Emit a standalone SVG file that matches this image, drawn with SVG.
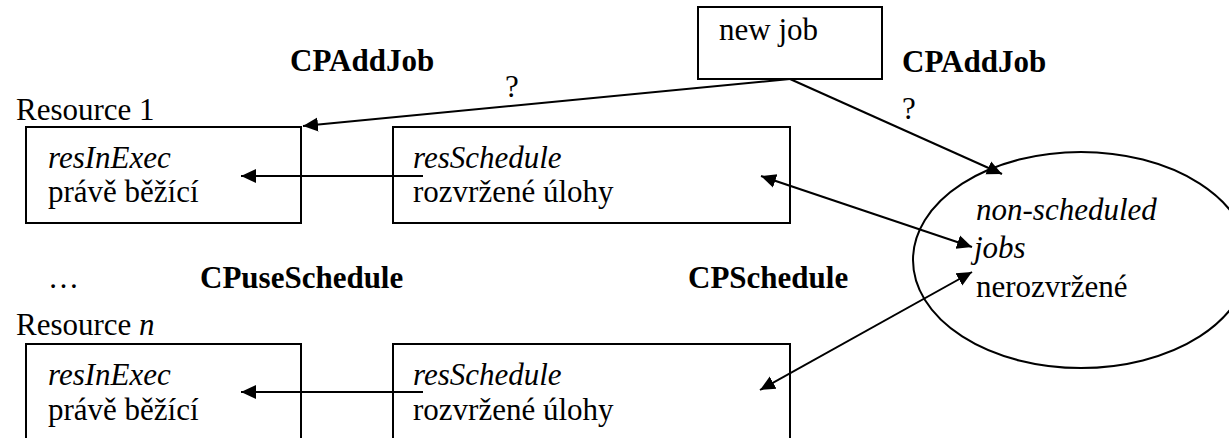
<svg xmlns="http://www.w3.org/2000/svg" width="1229" height="438" viewBox="0 0 1229 438">
<defs>
<style>
text{font-family:'Liberation Serif','DejaVu Serif','Noto Serif',serif;font-size:31px;fill:#000}
.b{font-weight:bold}
.i{font-style:italic}
.box{fill:none;stroke:#000;stroke-width:2}
.ln{fill:none;stroke:#000;stroke-width:2}
</style>
<marker id="ah" markerUnits="userSpaceOnUse" markerWidth="16" markerHeight="16" viewBox="0 0 16 16" refX="15" refY="8" orient="auto-start-reverse">
<path d="M0,1 L15,8 L0,15 z" fill="#000"/>
</marker>
</defs>
<rect width="1229" height="438" fill="#fff"/>
<g id="labels" font-family="Liberation Serif, DejaVu Serif, serif">
<text x="290" y="71" class="b">CPAddJob</text>
<text x="505" y="97">?</text>
<text x="902" y="72" class="b">CPAddJob</text>
<text x="902" y="119">?</text>
<text x="16" y="120">Resource 1</text>
<text x="48" y="288">…</text>
<text x="200" y="288" class="b">CPuseSchedule</text>
<text x="688" y="288" class="b">CPSchedule</text>
<text x="16" y="335">Resource <tspan class="i">n</tspan></text>
</g>
<g id="newjob">
<rect class="box" x="698" y="7" width="184" height="72"/>
<text x="719" y="40">new job</text>
</g>
<g id="res1-exec">
<rect class="box" x="26" y="127" width="275" height="96"/>
<text x="48" y="168" class="i">resInExec</text>
<text x="48" y="202">právě běžící</text>
</g>
<g id="res1-sched">
<rect class="box" x="393" y="127" width="397" height="96"/>
<text x="413" y="168" class="i">resSchedule</text>
<text x="413" y="202">rozvržené úlohy</text>
</g>
<g id="resn-exec">
<rect class="box" x="26" y="344" width="275" height="110"/>
<text x="48" y="385" class="i">resInExec</text>
<text x="48" y="420">právě běžící</text>
</g>
<g id="resn-sched">
<rect class="box" x="393" y="344" width="397" height="110"/>
<text x="413" y="385" class="i">resSchedule</text>
<text x="413" y="420">rozvržené úlohy</text>
</g>
<g id="nonsched">
<ellipse class="box" cx="1081" cy="260" rx="168" ry="108"/>
<text x="976" y="220" class="i">non-scheduled</text>
<text x="974" y="258" class="i">jobs</text>
<text x="976" y="297">nerozvržené</text>
</g>
<g id="connectors">
<line class="ln" x1="790" y1="79" x2="303" y2="126" marker-end="url(#ah)"/>
<line class="ln" x1="790" y1="79" x2="1002" y2="174" marker-end="url(#ah)"/>
<line class="ln" x1="423" y1="176" x2="241" y2="176" marker-end="url(#ah)"/>
<line class="ln" x1="423" y1="392" x2="241" y2="392" marker-end="url(#ah)"/>
<line class="ln" x1="761" y1="176" x2="972" y2="247" marker-start="url(#ah)" marker-end="url(#ah)"/>
<line class="ln" x1="760" y1="390" x2="972" y2="272" marker-start="url(#ah)" marker-end="url(#ah)"/>
</g>
</svg>
